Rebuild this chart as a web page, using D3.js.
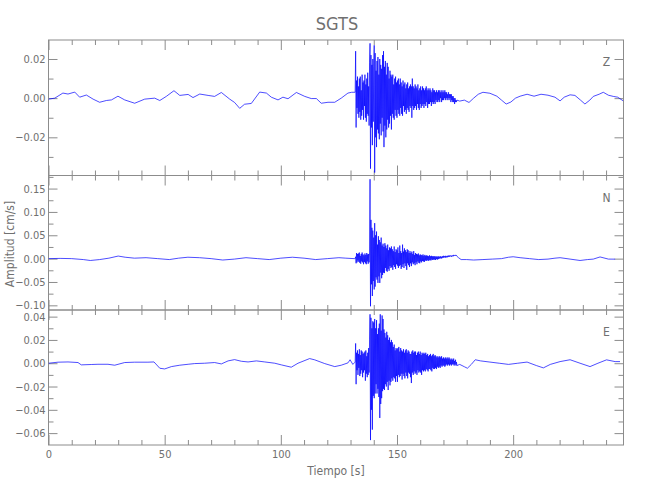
<!DOCTYPE html>
<html><head><meta charset="utf-8">
<script src="https://cdn.jsdelivr.net/npm/d3@7/dist/d3.min.js"></script>
<style>body{margin:0;background:#fff}text{font-family:"Liberation Sans Narrow","DejaVu Sans Condensed","DejaVu Sans",sans-serif}</style>
</head><body><svg id="c" width="650" height="500"></svg>
<script>
// ---------- DATA ----------
const title = "SGTS";
const xLabel = "Tiempo [s]";
const yLabel = "Amplitud [cm/s]";
const components = ["Z", "N", "E"];
const xTickValues = [0, 50, 100, 150, 200];
const zTickValues = [-0.02, 0.00, 0.02];
const nTickValues = [-0.10, -0.05, 0.00, 0.05, 0.10, 0.15];
const eTickValues = [-0.06, -0.04, -0.02, 0.00, 0.02, 0.04];
const zMinorTicks = [-0.03, -0.01, 0.01];
const nMinorTicks = [-0.075, -0.025, 0.025, 0.075, 0.125, 0.175];
const eMinorTicks = [-0.05, -0.03, -0.01, 0.01, 0.03];
const xMinorTicks = [10,20,30,40,60,70,80,90,110,120,130,140,160,170,180,190,210,220,230,240];
const timeDomain = [0, 247.5];
const zDomain = [-0.0395, 0.0297];
const nDomain = [-0.110, 0.178];
const eDomain = [-0.0702, 0.0457];

// shared sample times of the strong-motion window (s)
const denseTime = [
132.0,132.2,132.4,132.6,132.8,133.0,133.2,133.4,133.6,133.8,
134.0,134.2,134.4,134.6,134.8,135.0,135.2,135.4,135.6,135.8,
136.0,136.2,136.4,136.6,136.8,137.0,137.2,137.4,137.6,137.8,
138.0,138.2,138.4,138.6,138.8,139.0,139.2,139.4,139.6,139.8,
140.0,140.2,140.4,140.6,140.8,141.0,141.2,141.4,141.6,141.8,
142.0,142.2,142.4,142.6,142.8,143.0,143.2,143.4,143.6,143.8,
144.0,144.2,144.4,144.6,144.8,145.0,145.2,145.4,145.6,145.8,
146.0,146.2,146.4,146.6,146.8,147.0,147.2,147.4,147.6,147.8,
148.0,148.2,148.4,148.6,148.8,149.0,149.2,149.4,149.6,149.8,
150.0,150.2,150.4,150.6,150.8,151.0,151.2,151.4,151.6,151.8,
152.0,152.2,152.4,152.6,152.8,153.0,153.2,153.4,153.6,153.8,
154.0,154.2,154.4,154.6,154.8,155.0,155.2,155.4,155.6,155.8,
156.0,156.2,156.4,156.6,156.8,157.0,157.2,157.4,157.6,157.8,
158.0,158.2,158.4,158.6,158.8,159.0,159.2,159.4,159.6,159.8,
160.0,160.2,160.4,160.6,160.8,161.0,161.2,161.4,161.6,161.8,
162.0,162.2,162.4,162.6,162.8,163.0,163.2,163.4,163.6,163.8,
164.0,164.2,164.4,164.6,164.8,165.0,165.2,165.4,165.6,165.8,
166.0,166.2,166.4,166.6,166.8,167.0,167.2,167.4,167.6,167.8,
168.0,168.2,168.4,168.6,168.8,169.0,169.2,169.4,169.6,169.8,
170.0,170.2,170.4,170.6,170.8,171.0,171.2,171.4,171.6,171.8,
172.0,172.2,172.4,172.6,172.8,173.0,173.2,173.4,173.6,173.8,
174.0,174.2,174.4,174.6,174.8,175.0,175.2,175.4,175.6,175.8];

// Z component (cm/s)
const zPreTime = [0,2.7,6.2,8.4,11.3,13.4,16.3,19.2,22.0,24.9,27.1,29.9,32.8,37.1,41.4,45.7,47.9,50.7,54.0,56.5,60.1,62.2,65.1,68.7,71.5,74.4,78.0,80.1,82.3,84.4,87.3,90.9,93.8,95.9,98.8,100.9,103.1,106.7,110.3,113.1,115.3,117.4,120.3,123.2,126.0,128.9,130.5];
const zPreVals = [-0.0005,0,0.0026,0.0021,0.0031,0.0005,0.0016,-0.0005,-0.0021,-0.0012,-0.0009,0.001,-0.0009,-0.0026,-0.0005,0,-0.0012,0.0009,0.0038,0.0014,0.0019,0.0003,0.0021,0.0014,0.0009,0.0029,-0.0005,-0.0022,-0.0052,-0.0031,-0.0027,0.0031,0.0026,0.0005,-0.0009,0.0005,-0.0003,0.0029,0.0009,-0.0002,-0.0002,-0.0026,-0.0021,-0.0021,0,0.0026,0.003];
const zDenseVals = [
0.003,0.024,-0.015,0.009,-0.005,0.011,-0.008,0.006,-0.010,0.010,
-0.007,0.011,-0.011,0.004,-0.009,0.012,-0.006,0.008,-0.011,0.009,
-0.004,0.012,-0.010,0.007,-0.012,0.010,-0.008,0.013,-0.009,0.006,
-0.014,0.018,0.028,-0.036,0.022,-0.015,0.017,-0.024,0.020,-0.012,
0.016,0.027,-0.038,0.023,-0.020,0.014,-0.025,0.019,-0.016,0.021,
-0.018,0.012,-0.021,0.020,-0.013,0.017,-0.019,0.015,-0.010,0.022,
-0.017,0.024,-0.025,0.016,-0.014,0.019,-0.020,0.012,-0.016,0.018,
-0.011,0.016,-0.015,0.010,-0.013,0.014,-0.009,0.012,-0.016,0.011,
-0.008,0.012,-0.010,0.007,-0.011,0.010,-0.006,0.011,-0.009,0.008,
-0.010,0.009,-0.006,0.010,-0.008,0.007,-0.009,0.010,-0.005,0.008,
-0.008,0.006,-0.009,0.009,-0.004,0.007,-0.007,0.008,-0.006,0.005,
-0.008,0.007,-0.005,0.008,-0.006,0.005,-0.007,0.006,-0.004,0.007,
-0.005,0.006,-0.010,0.010,-0.004,0.006,-0.006,0.005,-0.005,0.007,
-0.004,0.006,-0.006,0.005,-0.003,0.007,-0.005,0.004,-0.006,0.005,
-0.003,0.006,-0.005,0.004,-0.004,0.006,-0.003,0.005,-0.005,0.004,
-0.003,0.005,-0.004,0.006,-0.002,0.004,-0.005,0.005,-0.003,0.004,
-0.003,0.005,-0.002,0.004,-0.004,0.003,-0.002,0.005,-0.003,0.004,
-0.002,0.004,-0.003,0.003,-0.001,0.004,-0.002,0.003,-0.002,0.004,
-0.001,0.004,-0.002,0.003,0.000,0.004,-0.002,0.003,-0.001,0.004,
-0.001,0.003,0.000,0.004,-0.001,0.003,0.000,0.003,-0.001,0.002,
0.000,0.003,-0.001,0.002,0.000,0.002,-0.002,0.002,-0.001,0.001,
-0.002,0.001,-0.002,0.000,-0.003,0.000,-0.002,-0.001,-0.002,-0.001];
const zPostTime = [177,179,181,183,185,187,190,193,195,197,199,201,203,206,209,212,215,218,220.2,222,224.5,226.6,229,230.9,233,234.5,237,238.8,241,243.1,245,247.4];
const zPostVals = [-0.0015,-0.001,-0.0022,0,0.002,0.003,0.0025,0.001,-0.001,-0.003,-0.002,0,0.001,0.002,0.001,0.002,0.0015,0.0005,-0.0014,0.0005,0.0017,0.0014,-0.001,-0.003,-0.001,0.0009,0.002,0.003,0.0015,0.0009,0.0005,-0.0014];

// N component (cm/s)
const nPreTime = [0,5,10,15,18,22,26,30,33,37,42,47,52,56,60,65,70,75,80,85,90,95,100,105,110,115,120,125,128,131.6];
const nPreVals = [0,0.0005,0,-0.002,-0.004,-0.002,0.001,0.0055,0.003,0.001,0.002,0,-0.002,0.001,0.003,0.002,0,-0.003,-0.001,0.002,0,-0.002,0.001,0.003,0.001,-0.002,0,0.002,0.001,0];
const nDenseVals = [
0.000,0.004,-0.010,0.012,-0.008,0.010,-0.004,0.011,-0.007,0.013,
-0.009,0.006,-0.011,0.010,-0.006,0.013,-0.008,0.009,-0.012,0.007,
-0.007,0.011,-0.010,0.008,-0.012,0.012,-0.006,0.009,-0.011,0.010,
-0.008,0.014,0.170,-0.102,0.083,-0.055,0.066,-0.080,0.060,-0.048,
0.045,-0.066,0.076,-0.060,0.050,-0.040,0.058,-0.045,0.030,-0.052,
0.048,-0.038,0.040,-0.052,0.035,-0.030,0.045,-0.042,0.028,-0.035,
0.032,-0.030,0.025,-0.031,0.033,-0.020,0.028,-0.026,0.022,-0.028,
0.030,-0.022,0.018,-0.026,0.024,-0.016,0.022,-0.020,0.026,-0.018,
0.020,-0.024,0.016,-0.014,0.026,-0.018,0.014,-0.022,0.020,-0.012,
0.018,-0.015,0.024,-0.020,0.012,-0.016,0.028,-0.014,0.016,-0.022,
0.012,-0.018,0.030,-0.012,0.015,-0.020,0.022,-0.010,0.018,-0.016,
0.014,-0.024,0.020,-0.010,0.018,-0.014,0.012,-0.018,0.016,-0.010,
0.012,-0.016,0.015,-0.008,0.010,-0.012,0.016,-0.010,0.008,-0.014,
0.012,-0.008,0.010,-0.012,0.009,-0.006,0.011,-0.009,0.007,-0.010,
0.009,-0.006,0.008,-0.008,0.007,-0.005,0.009,-0.006,0.006,-0.007,
0.008,-0.004,0.006,-0.005,0.007,-0.003,0.006,-0.005,0.005,-0.004,
0.007,-0.003,0.005,-0.004,0.006,-0.002,0.005,-0.003,0.005,-0.002,
0.005,-0.002,0.005,-0.003,0.004,-0.001,0.005,-0.002,0.004,-0.001,
0.005,0.000,0.004,0.001,0.005,0.000,0.004,0.001,0.005,0.002,
0.006,0.002,0.005,0.003,0.006,0.002,0.005,0.003,0.006,0.003,
0.006,0.004,0.007,0.004,0.006,0.005,0.007,0.004,0.006,0.005,
0.007,0.005,0.008,0.006,0.007,0.006,0.008,0.006,0.007,0.005];
const nPostTime = [176.5,177.6,180,183,187,191,195,198,200,203,207,211,215,218,220.2,224.5,228.8,232,234.5,237.4,241,243.9];
const nPostVals = [0.002,-0.002,-0.002,-0.003,-0.002,-0.001,0,0.003,0.004,0.002,0,-0.002,-0.001,0.001,0.002,-0.001,-0.004,-0.002,-0.001,0.0036,-0.001,-0.0011];

// E component (cm/s)
const ePreTime = [0,4.1,8.4,12.7,14.1,18.4,21.3,25.6,28.5,32.8,37.1,42.8,45.4,47.9,50.0,52.9,56.5,60.1,62.9,67.2,71.5,74.4,77.3,80.1,83.0,85.9,89.5,93.1,97.4,100.2,104.5,107.4,112.4,114.6,118.9,123.2,126.0,128.9,129.8,131.0];
const ePreVals = [0,0.0009,0.0011,0.0006,-0.0014,-0.0011,-0.0009,-0.0009,-0.0017,0.0006,0.0009,0.0009,0.0011,-0.0043,-0.0049,-0.0029,-0.0017,-0.0009,-0.0003,0,0.0006,-0.0006,0.002,0.0031,0.0017,0.0011,0.002,0.0011,0,-0.0014,-0.0034,0,0.004,0.0029,-0.0003,-0.0029,-0.0017,0.0003,0.003,-0.001];
const eDenseVals = [
0.001,0.017,-0.018,0.009,-0.006,0.011,-0.010,0.008,-0.004,0.012,
-0.011,0.007,-0.009,0.011,-0.006,0.010,-0.012,0.008,-0.008,0.009,
-0.006,0.010,-0.015,0.011,-0.009,0.006,-0.012,0.009,-0.010,0.013,
-0.008,0.020,0.042,-0.066,0.039,-0.040,0.030,-0.057,0.036,-0.028,
0.035,-0.030,0.038,-0.026,0.030,-0.018,0.037,-0.026,0.025,-0.022,
0.030,-0.029,0.034,-0.047,0.042,-0.035,0.028,-0.030,0.041,-0.024,
0.038,-0.022,0.029,-0.023,0.026,-0.018,0.022,-0.020,0.027,-0.016,
0.024,-0.023,0.020,-0.015,0.022,-0.019,0.018,-0.016,0.020,-0.013,
0.018,-0.015,0.014,-0.012,0.016,-0.013,0.011,-0.016,0.013,-0.011,
0.012,-0.016,0.013,-0.010,0.014,-0.012,0.010,-0.011,0.013,-0.009,
0.011,-0.014,0.010,-0.009,0.012,-0.011,0.009,-0.013,0.011,-0.008,
0.012,-0.011,0.009,-0.013,0.011,-0.008,0.010,-0.009,0.008,-0.012,
0.008,-0.017,0.010,-0.008,0.011,-0.010,0.009,-0.007,0.010,-0.009,
0.010,-0.008,0.007,-0.010,0.009,-0.006,0.010,-0.008,0.008,-0.007,
0.010,-0.008,0.007,-0.010,0.009,-0.006,0.008,-0.007,0.009,-0.006,
0.008,-0.007,0.009,-0.005,0.007,-0.006,0.008,-0.007,0.006,-0.005,
0.007,-0.005,0.008,-0.006,0.006,-0.007,0.007,-0.004,0.008,-0.005,
0.006,-0.005,0.007,-0.004,0.006,-0.005,0.005,-0.003,0.006,-0.004,
0.005,-0.003,0.006,-0.004,0.005,-0.002,0.006,-0.003,0.004,-0.002,
0.005,-0.002,0.004,-0.003,0.005,-0.002,0.004,-0.001,0.005,-0.002,
0.004,-0.001,0.005,-0.002,0.004,-0.001,0.003,-0.002,0.004,-0.001,
0.003,-0.001,0.004,-0.002,0.002,-0.001,0.003,-0.002,0.001,-0.002];
const ePostTime = [177,179,180.3,182,183.7,186,190,194,198,202,206,210,213,216,220.2,224.5,228.8,233.1,236.5,240.2,243.9,246];
const ePostVals = [-0.001,-0.003,-0.0043,-0.001,0.003,0.002,0.001,0,-0.001,0,0.001,-0.002,-0.004,-0.001,0.0014,0.003,0,-0.0029,0,0.0029,0.0014,0.0014];

// ---------- LAYOUT ----------
const plotLeft = 48.5, plotRight = 623.5;
const panelEdges = [40, 175.5, 310, 445];
const axisColor = "#8c8c8c", textColor = "#707070", traceColor = "#0000ff";

function series(pt, pv, dv, qt, qv) {
  return pt.map((t, i) => [t, pv[i]])
    .concat(denseTime.map((t, i) => [t, dv[i]]))
    .concat(qt.map((t, i) => [t, qv[i]]));
}
const panels = [
  {name: components[0], domain: zDomain, major: zTickValues, minor: zMinorTicks, data: series(zPreTime, zPreVals, zDenseVals, zPostTime, zPostVals)},
  {name: components[1], domain: nDomain, major: nTickValues, minor: nMinorTicks, data: series(nPreTime, nPreVals, nDenseVals, nPostTime, nPostVals)},
  {name: components[2], domain: eDomain, major: eTickValues, minor: eMinorTicks, data: series(ePreTime, ePreVals, eDenseVals, ePostTime, ePostVals)}
];

const svg = d3.select("#c");
const x = d3.scaleLinear().domain(timeDomain).range([plotLeft, plotRight]);
const fmt = d3.format(".2f");

function styleAxis(g) {
  g.select(".domain").remove();
  g.selectAll("line").attr("stroke", axisColor).attr("stroke-width", 1);
  g.selectAll("text").attr("fill", textColor).attr("font-size", 11);
}

panels.forEach((p, i) => {
  const top = panelEdges[i], bottom = panelEdges[i + 1];
  const y = d3.scaleLinear().domain(p.domain).range([bottom, top]);
  const g = svg.append("g");
  const clipId = "clip" + i;
  svg.append("clipPath").attr("id", clipId).append("rect")
    .attr("x", plotLeft).attr("y", top).attr("width", plotRight - plotLeft).attr("height", bottom - top);

  g.append("g").attr("transform", `translate(${plotLeft},0)`)
    .call(d3.axisLeft(y).tickValues(p.major).tickSize(-9).tickPadding(3).tickFormat(fmt)).call(styleAxis);
  g.append("g").attr("transform", `translate(${plotLeft},0)`)
    .call(d3.axisLeft(y).tickValues(p.minor).tickSize(-5).tickFormat("")).call(styleAxis);
  g.append("g").attr("transform", `translate(${plotRight},0)`)
    .call(d3.axisRight(y).tickValues(p.major).tickSize(-9).tickFormat("")).call(styleAxis);
  g.append("g").attr("transform", `translate(${plotRight},0)`)
    .call(d3.axisRight(y).tickValues(p.minor).tickSize(-5).tickFormat("")).call(styleAxis);
  g.append("g").attr("transform", `translate(0,${top})`)
    .call(d3.axisTop(x).tickValues(xTickValues).tickSize(-10).tickFormat("")).call(styleAxis);
  g.append("g").attr("transform", `translate(0,${top})`)
    .call(d3.axisTop(x).tickValues(xMinorTicks).tickSize(-5).tickFormat("")).call(styleAxis);
  g.append("g").attr("transform", `translate(0,${bottom})`)
    .call(d3.axisBottom(x).tickValues(xTickValues).tickSize(-10).tickPadding(5)
      .tickFormat(i === 2 ? d3.format("d") : "")).call(styleAxis);
  g.append("g").attr("transform", `translate(0,${bottom})`)
    .call(d3.axisBottom(x).tickValues(xMinorTicks).tickSize(-5).tickFormat("")).call(styleAxis);

  g.append("rect").attr("x", plotLeft).attr("y", top).attr("width", plotRight - plotLeft).attr("height", bottom - top)
    .attr("fill", "none").attr("stroke", axisColor).attr("stroke-width", 1);

  const line = d3.line().x(d => x(d[0])).y(d => y(d[1]));
  g.append("path").datum(p.data).attr("clip-path", `url(#${clipId})`)
    .attr("d", line).attr("fill", "none").attr("stroke", traceColor)
    .attr("stroke-width", 0.7).attr("stroke-linejoin", "round");

  g.append("text").attr("x", 606.5).attr("y", top + 26).attr("text-anchor", "middle")
    .attr("fill", textColor).attr("font-size", 12).text(p.name);
});

svg.append("text").attr("x", 337).attr("y", 30).attr("text-anchor", "middle")
  .attr("fill", textColor).attr("font-size", 18).text(title);
svg.append("text").attr("x", 336).attr("y", 475).attr("text-anchor", "middle")
  .attr("fill", textColor).attr("font-size", 12).text(xLabel);
svg.append("text").attr("transform", "translate(13.5,244) rotate(-90)").attr("text-anchor", "middle")
  .attr("fill", textColor).attr("font-size", 12).text(yLabel);
</script>
</body></html>
